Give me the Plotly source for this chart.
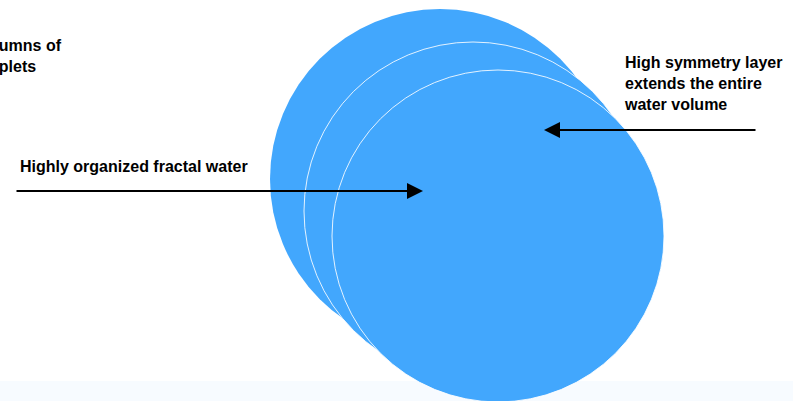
import plotly.graph_objects as go

W, H = 793, 401

# circles (back to front): centre x, centre y, radius (pixel-like axis units)
circle_cx = [440, 473, 498]
circle_cy = [179, 211, 236]
circle_r = [170, 169, 166]
circle_outline = ["rgba(0,0,0,0)", "rgba(255,255,255,0.85)", "rgba(255,255,255,0.85)"]
circle_color = "#42A7FD"

# labels
label_texts = [
    "Columns of<br>droplets",
    "High symmetry layer<br>extends the entire<br>water volume",
    "Highly organized fractal water",
]
label_x = [-29, 622, 18]
label_y = [35, 52, 156]

# arrows: tail (ax, ay) -> head (x, y)
arrow_tail_x = [15, 757]
arrow_tail_y = [191, 130]
arrow_head_x = [423, 544]
arrow_head_y = [191, 130]

fig = go.Figure()

shapes = []
# faint bluish strip at the bottom
shapes.append(dict(type="rect", xref="x", yref="y", x0=0, x1=W, y0=381, y1=H,
                   fillcolor="#F7FBFF", line=dict(width=0), layer="below"))
for cx, cy, r, oc in zip(circle_cx, circle_cy, circle_r, circle_outline):
    shapes.append(dict(type="circle", xref="x", yref="y",
                       x0=cx - r, x1=cx + r, y0=cy - r, y1=cy + r,
                       fillcolor=circle_color, line=dict(color=oc, width=1),
                       layer="above"))

annotations = []
for t, x, y in zip(label_texts, label_x, label_y):
    annotations.append(dict(text="<b>" + t + "</b>", x=x / W, y=y, xref="paper", yref="y",
                            xanchor="left", yanchor="top", align="left",
                            showarrow=False,
                            font=dict(family="Liberation Sans, Arial", size=16, color="#000000")))
for tx, ty, hx, hy in zip(arrow_tail_x, arrow_tail_y, arrow_head_x, arrow_head_y):
    annotations.append(dict(text="", x=hx, y=hy, ax=tx, ay=ty,
                            xref="x", yref="y", axref="x", ayref="y",
                            showarrow=True, arrowhead=2, arrowwidth=2,
                            arrowsize=1.6, arrowcolor="#000000", standoff=0))

fig.update_layout(
    width=W, height=H,
    margin=dict(l=0, r=0, t=0, b=0),
    paper_bgcolor="white", plot_bgcolor="white",
    xaxis=dict(range=[0, W], visible=False, fixedrange=True),
    yaxis=dict(range=[H, 0], visible=False, fixedrange=True),
    shapes=shapes, annotations=annotations, showlegend=False,
)

fig.write_html("out.html", config={"displayModeBar": False},
               post_script="document.body.style.margin='0';document.body.style.overflow='hidden';")
